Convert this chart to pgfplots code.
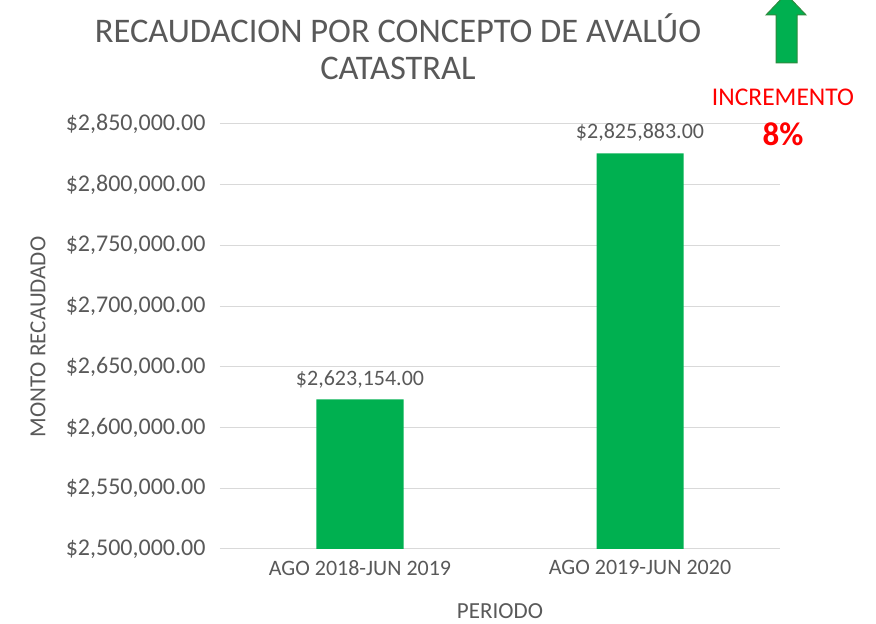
\documentclass[border=0pt]{standalone}
\usepackage{fontspec}
\setmainfont{Carlito}
\usepackage{pgfplots}
\pgfplotsset{compat=1.18}
\definecolor{barg}{HTML}{00B050}
\definecolor{txt}{HTML}{595959}
\definecolor{gridc}{HTML}{D9D9D9}
\definecolor{arrowedge}{HTML}{2E8B3E}
\begin{document}
\begin{tikzpicture}[x=1pt,y=1pt]
\path[use as bounding box] (0,0) rectangle (876,624);
\begin{axis}[
  at={(220pt,75pt)}, anchor=south west,
  scale only axis, width=560pt, height=425pt,
  ybar, bar width=87pt,
  xmin=-0.5, xmax=1.5, ymin=2500000, ymax=2850000,
  scaled y ticks=false,
  xtick={0,1}, xticklabels={AGO 2018-JUN 2019, AGO 2019-JUN 2020},
  ytick={2500000,2550000,2600000,2650000,2700000,2750000,2800000,2850000},
  yticklabels={{\$2,500,000.00},{\$2,550,000.00},{\$2,600,000.00},{\$2,650,000.00},{\$2,700,000.00},{\$2,750,000.00},{\$2,800,000.00},{\$2,850,000.00}},
  tick label style={font=\fontsize{22}{26}\selectfont, text=txt},
  yticklabel style={xshift=-11pt, font=\fontsize{24}{28}\selectfont},
  xticklabel style={yshift=-8pt},
  major tick length=0pt,
  ymajorgrids, grid style={gridc, line width=1pt},
  axis x line*=bottom, axis y line*=left,
  x axis line style={gridc, line width=1pt, -},
  y axis line style={draw=none},
  xlabel={PERIODO}, ylabel={MONTO RECAUDADO},
  every axis x label/.style={at={(280pt,-62pt)}, anchor=center, font=\fontsize{23}{27}\selectfont, text=txt},
  every axis y label/.style={at={(-182pt,212pt)}, anchor=center, rotate=90, font=\fontsize{23}{27}\selectfont, text=txt},
  nodes near coords, point meta=explicit symbolic,
  every node near coord/.append style={font=\fontsize{22}{26}\selectfont, text=txt, yshift=8pt},
  clip=false,
]
\addplot[fill=barg, draw=none] coordinates {(0,2623154) [\$2,623,154.00] (1,2825883) [\$2,825,883.00]};
\end{axis}
\node[text=txt, font=\fontsize{34.5}{40}\selectfont] at (398,596) {RECAUDACION POR CONCEPTO DE AVALÚO};
\node[text=txt, font=\fontsize{34.5}{40}\selectfont] at (398,556) {CATASTRAL};
\filldraw[fill=barg, draw=arrowedge, line width=1pt] (776,561) -- (797,561) -- (797,609) -- (806,609) -- (786,630) -- (766,609) -- (776,609) -- cycle;
\node[text=red, font=\fontsize{25.5}{30}\selectfont] at (783,527) {INCREMENTO};
\node[text=red, font=\fontsize{33}{36}\selectfont\bfseries] at (783,490) {8\%};
\end{tikzpicture}
\end{document}
